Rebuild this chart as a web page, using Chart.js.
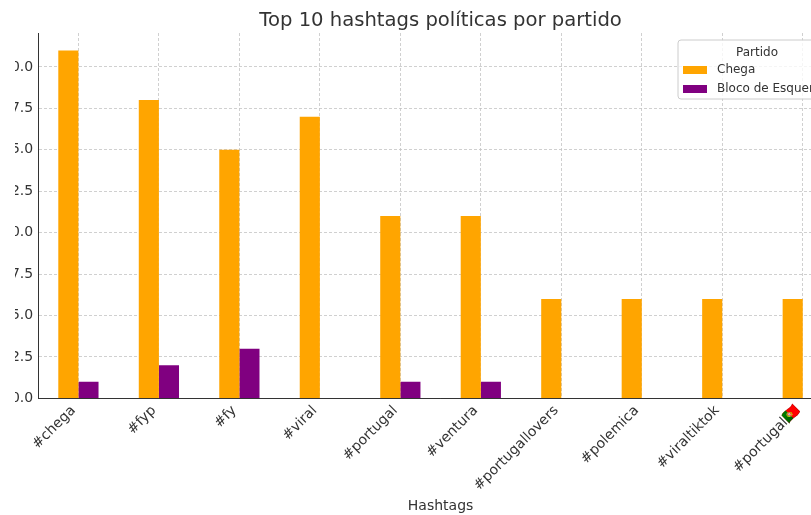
<!DOCTYPE html>
<html>
<head>
<meta charset="utf-8">
<script src="https://cdn.jsdelivr.net/npm/chart.js@4.4.1/dist/chart.umd.min.js"></script>
<style>
  html, body { margin: 0; padding: 0; background: #fff; overflow: hidden; }
  #clip { position: absolute; left: 15px; top: 0; width: 796px; height: 515px; overflow: hidden; }
  #wrap { position: absolute; left: -18px; top: 0; width: 880px; height: 515px; }
</style>
</head>
<body>
<div id="clip"><div id="wrap"><canvas id="chart" width="880" height="515"></canvas></div></div>
<script>
// data
const hashtags = ["#chega", "#fyp", "#fy", "#viral", "#portugal", "#ventura",
  "#portugallovers", "#polemica", "#viraltiktok", "#portugal\u{1F1F5}\u{1F1F9}"];
const chegaCounts = [21, 18, 15, 17, 11, 11, 6, 6, 6, 6];
const blocoCounts = [1, 2, 3, 0, 1, 1, 0, 0, 0, 0];
const yTicks = [0, 2.5, 5, 7.5, 10, 12.5, 15, 17.5, 20];
const yMax = 22.05;
const chartTitle = "Top 10 hashtags políticas por partido";

const FONT = "'DejaVu Sans', sans-serif";
const TEXT = "#333333";
const GRID = "#c4c4c4";

// title centred over the plot area, plus a matplotlib style legend box
const decorations = {
  id: "decorations",
  afterDraw(chart) {
    const { ctx, chartArea } = chart;
    ctx.save();
    ctx.fillStyle = TEXT;
    ctx.font = "19.6px " + FONT;
    ctx.textAlign = "center";
    ctx.textBaseline = "middle";
    ctx.fillText(chartTitle, (chartArea.left + chartArea.right) / 2, chartArea.top - 12);

    const w = 158, h = 59;
    const x = chartArea.right - 7 - w;
    const y = chartArea.top + 7;
    ctx.beginPath();
    ctx.roundRect(x, y, w, h, 3);
    ctx.fillStyle = "rgba(255,255,255,0.8)";
    ctx.fill();
    ctx.strokeStyle = "#cccccc";
    ctx.lineWidth = 1;
    ctx.stroke();

    ctx.fillStyle = TEXT;
    ctx.font = "12px " + FONT;
    ctx.fillText("Partido", x + w / 2, y + 12.5);

    ctx.textAlign = "left";
    chart.data.datasets.forEach((ds, i) => {
      const cy = y + 30 + i * 19;
      ctx.fillStyle = ds.backgroundColor;
      ctx.fillRect(x + 5, cy - 4, 24, 8);
      ctx.fillStyle = TEXT;
      ctx.fillText(ds.label, x + 39, cy);
    });
    ctx.restore();
  }
};

new Chart(document.getElementById("chart"), {
  type: "bar",
  data: {
    labels: hashtags,
    datasets: [
      { label: "Chega", data: chegaCounts, backgroundColor: "#ffa500" },
      { label: "Bloco de Esquerda", data: blocoCounts, backgroundColor: "#800080" }
    ]
  },
  options: {
    responsive: false,
    animation: false,
    devicePixelRatio: 1,
    categoryPercentage: 0.5,
    barPercentage: 1.0,
    layout: { padding: { left: 0, right: 34, top: 33, bottom: 0 } },
    plugins: {
      legend: { display: false },
      tooltip: { enabled: false },
      title: { display: false }
    },
    scales: {
      x: {
        offset: true,
        grid: { display: true, offset: false, color: GRID, lineWidth: 0.8, drawTicks: false },
        border: { display: true, color: "#333333", width: 1, dash: [3, 2] },
        ticks: {
          color: TEXT,
          font: { family: FONT, size: 14 },
          padding: 4,
          labelOffset: -5,
          minRotation: 45,
          maxRotation: 45,
          autoSkip: false
        },
        title: {
          display: true,
          text: "Hashtags",
          color: TEXT,
          font: { family: FONT, size: 14 },
          padding: { top: 0, bottom: 0 }
        }
      },
      y: {
        min: 0,
        max: yMax,
        afterBuildTicks: (scale) => { scale.ticks = yTicks.map(v => ({ value: v })); },
        grid: { color: GRID, lineWidth: 0.8, drawTicks: false },
        border: { display: true, color: "#333333", width: 1, dash: [3, 2] },
        ticks: {
          color: TEXT,
          font: { family: FONT, size: 14 },
          padding: 5,
          callback: (v) => Number(v).toFixed(1)
        }
      }
    }
  },
  plugins: [decorations]
});
</script>
</body>
</html>
